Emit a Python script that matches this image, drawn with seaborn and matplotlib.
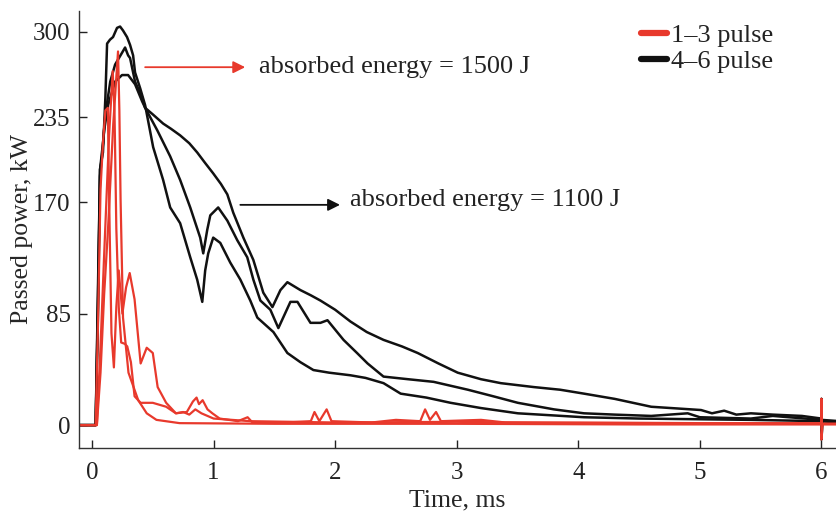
import pandas as pd
import seaborn as sns
import matplotlib.pyplot as plt
from matplotlib.lines import Line2D

# traces: time (ms), passed power (kW)
# pulses 4-6 (black)
t_a = [-0.12, 0.03, 0.05, 0.066, 0.082, 0.1, 0.132, 0.19, 0.247, 0.297, 0.354, 0.412, 0.437,
       0.5, 0.585, 0.65, 0.725, 0.8, 0.865, 0.93, 0.997, 1.06, 1.113, 1.162, 1.245, 1.327,
       1.409, 1.484, 1.55, 1.607, 1.714, 1.8, 1.879, 2.0, 2.126, 2.26, 2.398, 2.55, 2.679,
       2.85, 3.008, 3.2, 3.363, 3.635, 3.85, 4.047, 4.3, 4.6, 5.01, 5.1, 5.2, 5.3, 5.42,
       5.6, 5.84, 6.0, 6.0, 6.0, 6.01, 6.15]
p_a = [0, 0, 90, 190, 205, 225, 244, 262, 267, 267, 260, 247, 242,
       237, 230, 226, 221, 215, 208, 200, 192, 184, 176, 162, 143, 126,
       101, 90, 103, 109, 103, 99, 95, 88, 79, 71, 65, 60, 55,
       47, 40, 35, 32, 29, 27, 24, 20, 14, 11.5, 9, 11, 8, 9,
       8, 7, 5, 20, -11, 3, 2]

t_b = [-0.12, 0.03, 0.05, 0.066, 0.09, 0.11, 0.15, 0.19, 0.247, 0.272, 0.297, 0.313, 0.354,
       0.412, 0.437, 0.536, 0.643, 0.725, 0.808, 0.89, 0.915, 0.948, 0.973, 1.038, 1.113,
       1.195, 1.277, 1.327, 1.385, 1.467, 1.533, 1.632, 1.69, 1.797, 1.879, 1.937, 2.069,
       2.18, 2.267, 2.398, 2.6, 2.81, 3.091, 3.3, 3.503, 3.8, 4.047, 4.3, 4.6, 4.9, 5.0,
       5.42, 5.6, 6.0, 6.15]
p_b = [0, 0, 100, 195, 215, 237, 262, 275, 284, 288, 282, 280, 262,
       250, 242, 225, 205, 187, 166, 143, 131, 149, 160, 166, 156,
       141, 128, 111, 95, 88, 74, 94, 94, 78, 78, 80, 65,
       55, 47, 37, 35, 33, 27, 22, 17, 12, 9, 8, 7, 9, 6,
       5, 7, 4, 3]

t_c = [-0.12, 0.03, 0.05, 0.066, 0.09, 0.11, 0.124, 0.148, 0.173, 0.206, 0.231, 0.255, 0.288,
       0.313, 0.338, 0.354, 0.396, 0.437, 0.503, 0.585, 0.643, 0.725, 0.808, 0.865, 0.907,
       0.931, 0.956, 0.997, 1.055, 1.137, 1.22, 1.302, 1.36, 1.492, 1.607, 1.714, 1.821,
       1.95, 2.126, 2.25, 2.398, 2.539, 2.75, 2.95, 3.2, 3.503, 4.047, 4.5, 5.42, 6.0, 6.15]
p_c = [0, 0, 110, 195, 208, 250, 291, 294, 296, 303, 304, 301, 296,
       290, 282, 269, 257, 244, 212, 187, 166, 154, 128, 111, 94,
       118, 131, 143, 139, 124, 111, 95, 82, 71, 55, 48, 42,
       40, 38, 36, 32, 24, 21, 17, 13, 9, 6, 5, 4, 3, 2]

# pulses 1-3 (red)
t_r1 = [-0.12, 0.04, 0.07, 0.1, 0.132, 0.175, 0.214, 0.225, 0.235, 0.255, 0.3, 0.38, 0.45,
        0.53, 0.72, 1.5, 3.0, 4.5, 6.15]
p_r1 = [0, 0, 40, 100, 150, 230, 285, 240, 172, 82, 40, 19, 9,
        4, 1.5, 1, 1, 0.5, 0.5]

t_r2 = [-0.12, 0.03, 0.05, 0.07, 0.09, 0.11, 0.13, 0.145, 0.16, 0.18, 0.2, 0.22, 0.25,
        0.28, 0.31, 0.35, 0.4, 0.45, 0.5, 0.54, 0.61, 0.69, 0.78, 0.83, 0.86, 0.88,
        0.91, 0.95, 0.99, 1.05, 1.2, 1.28, 1.32, 1.6, 1.8, 1.83, 1.87, 1.93, 1.97, 2.3,
        2.5, 2.7, 2.74, 2.78, 2.83, 2.87, 3.2, 3.4, 4.0, 5.0, 6.0, 6.0, 6.0, 6.01, 6.15]
p_r2 = [0, 0, 80, 180, 215, 240, 242, 150, 70, 44, 90, 118, 85,
        105, 116, 96, 47, 59, 55, 29, 17, 9, 10, 18, 21, 16,
        19, 12, 9, 5, 3, 6, 2, 2, 3, 10, 3, 12, 3, 2,
        4, 3, 12, 4, 10, 3, 4, 2, 2, 1.5, 1.5, 20, -11, 1, 1]

t_r3 = [-0.12, 0.04, 0.07, 0.1, 0.14, 0.17, 0.185, 0.2, 0.22, 0.24, 0.27, 0.29, 0.32,
        0.35, 0.4, 0.45, 0.5, 0.61, 0.69, 0.75, 0.8, 0.85, 0.9, 1.0, 1.3, 2.0, 3.0,
        4.0, 5.0, 6.15]
p_r3 = [0, 0, 60, 130, 220, 270, 240, 150, 90, 63, 62, 60, 48,
        22, 17, 17, 17, 14, 9, 10, 8, 12, 9, 5, 3, 2, 2.5,
        1.5, 1, 1]

traces = [("4–6 pulse", "a", t_a, p_a), ("4–6 pulse", "b", t_b, p_b), ("4–6 pulse", "c", t_c, p_c),
          ("1–3 pulse", "r1", t_r1, p_r1), ("1–3 pulse", "r2", t_r2, p_r2), ("1–3 pulse", "r3", t_r3, p_r3)]

rows = []
for grp, name, ts, ps in traces:
    for i in range(len(ts)):
        rows.append([grp, name, i, ts[i], ps[i]])
df = pd.DataFrame(rows, columns=["pulse", "trace", "n", "Time, ms", "Passed power, kW"])

red = "#e8392c"
black = "#111111"

sns.set_theme(style="ticks")
plt.rcParams["font.family"] = ["Liberation Serif", "DejaVu Serif"]
plt.rcParams["text.color"] = "#222222"

fig, ax = plt.subplots(figsize=(8.36, 5.15), dpi=100)
fig.subplots_adjust(left=0.0945, right=1.0, bottom=0.13, top=0.979)

sns.lineplot(data=df[df.pulse == "4–6 pulse"], x="Time, ms", y="Passed power, kW", units="trace",
             estimator=None, sort=False, color=black, lw=1.8, ax=ax)
sns.lineplot(data=df[df.pulse == "1–3 pulse"], x="Time, ms", y="Passed power, kW", units="trace",
             estimator=None, sort=False, color=red, lw=1.6, ax=ax)

ax.set_xlim(-0.107, 6.12)
ax.set_ylim(-17.5, 316)
ax.set_xticks([0, 1, 2, 3, 4, 5, 6])
ax.set_yticks([0, 85, 170, 235, 300])
ax.tick_params(direction="in", length=5.5, width=1, pad=6, labelsize=18, colors="#222222")
ax.tick_params(axis="x", pad=10)
for s in ["left", "bottom"]:
    ax.spines[s].set_color("#333333")
    ax.spines[s].set_linewidth(1)
sns.despine(ax=ax)
ax.set_xlabel("Time, ms", fontsize=18.5, labelpad=4)
ax.set_ylabel("Passed power, kW", fontsize=18.5, labelpad=0)

# energy annotations
ax.annotate("", xy=(1.26, 273), xytext=(0.437, 273),
            arrowprops=dict(arrowstyle="-|>", color=red, lw=1.3, mutation_scale=18, shrinkA=0, shrinkB=0))
ax.text(1.37, 273, "absorbed energy = 1500 J", fontsize=19, va="center")
ax.annotate("", xy=(2.04, 168), xytext=(1.22, 168),
            arrowprops=dict(arrowstyle="-|>", color=black, lw=1.3, mutation_scale=18, shrinkA=0, shrinkB=0))
ax.text(2.126, 172, "absorbed energy = 1100 J", fontsize=19, va="center")

handles = [Line2D([], [], color=red, lw=4.5, solid_capstyle="round"),
           Line2D([], [], color=black, lw=4.5, solid_capstyle="round")]
ax.legend(handles, ["1–3 pulse", "4–6 pulse"], loc="upper left", bbox_to_anchor=(0.742, 0.97),
          frameon=False, fontsize=19, handlelength=1.0, handletextpad=0.15, labelspacing=0.08,
          borderpad=0, borderaxespad=0)

fig.savefig("out.png", dpi=100)
